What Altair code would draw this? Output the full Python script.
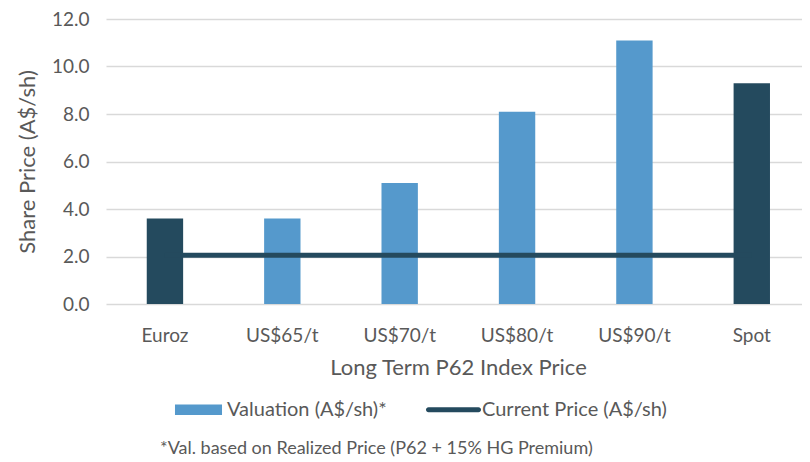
import altair as alt
import pandas as pd

categories = ["Euroz", "US$65/t", "US$70/t", "US$80/t", "US$90/t", "Spot"]
valuation = [3.6, 3.6, 5.1, 8.1, 11.1, 9.3]
current_price = [2.05, 2.05, 2.05, 2.05, 2.05, 2.05]
bar_colors = ["#244A5E", "#5599CC", "#5599CC", "#5599CC", "#5599CC", "#244A5E"]
series_names = ["Valuation (A$/sh)*", "Current Price (A$/sh)"]
series_colors = ["#5599CC", "#244A5E"]
y_ticks = [0, 2, 4, 6, 8, 10, 12]
footnote = "*Val. based on Realized Price (P62 + 15% HG Premium)"

df = pd.DataFrame({"cat": categories, "val": valuation, "cur": current_price, "col": bar_colors})
leg = pd.DataFrame({"series": series_names})

FONT = "Lato"
GREY = "#595959"

rect_path = "M-0.855,-0.195H0.855V0.195H-0.855Z"
line_path = ("M-0.91,-0.09H0.91A0.09,0.09 0 0 1 0.91,0.09"
             "H-0.91A0.09,0.09 0 0 1 -0.91,-0.09Z")

x_enc = alt.X(
    "cat:N", sort=categories,
    scale=alt.Scale(paddingInner=0.69, paddingOuter=0.31, align=0.56),
    axis=alt.Axis(title="Long Term P62 Index Price", labelAngle=0, domain=False, ticks=False,
                  labelPadding=22, labelFontSize=19, titleFontSize=22, titlePadding=12,
                  titleX=352,
                  labelColor=GREY, titleColor=GREY, labelFont=FONT, titleFont=FONT,
                  titleFontWeight="normal", grid=False),
)

y_scale = alt.Scale(domain=[0, 12])
y_axis = alt.Axis(values=y_ticks, format=".1f", title="Share Price (A$/sh)", grid=True,
                  gridColor="#D9D9D9", gridWidth=1.5, domain=False, ticks=False,
                  labelPadding=17, labelFontSize=19, titleFontSize=22, titlePadding=12,
                  labelColor=GREY, titleColor=GREY, labelFont=FONT, titleFont=FONT,
                  titleFontWeight="normal")

bars = alt.Chart(df).mark_bar().encode(
    x=x_enc,
    y=alt.Y("val:Q", scale=y_scale, axis=y_axis),
    color=alt.Color("col:N", scale=None),
)

line = alt.Chart(df).mark_line(color="#244A5E", strokeWidth=5).encode(
    x=alt.X("cat:N", sort=categories),
    y=alt.Y("cur:Q"),
)

legend_props = dict(
    title=None, orient="none", legendX=65, legendY=363, direction="horizontal",
    labelFontSize=20, labelColor=GREY, labelFont=FONT, labelOffset=1, labelLimit=400,
    columnPadding=38, symbolOpacity=1, symbolSize=3025, symbolStrokeWidth=0,
)

legend_layer = alt.Chart(leg).transform_filter("false").mark_point(filled=True, opacity=0).encode(
    color=alt.Color("series:N", scale=alt.Scale(domain=series_names, range=series_colors),
                    legend=alt.Legend(**legend_props)),
    shape=alt.Shape("series:N", scale=alt.Scale(domain=series_names, range=[rect_path, line_path]),
                    legend=alt.Legend(**legend_props)),
)

chart = alt.layer(bars, line, legend_layer).properties(
    width=696, height=285,
    autosize=alt.AutoSizeParams(type="none"),
    padding={"left": 98, "top": 11, "right": 0, "bottom": 158},
    title=alt.TitleParams(footnote, orient="bottom", anchor="start", frame="group", fontSize=18,
                          color=GREY, font=FONT, fontWeight="normal", offset=20, dx=54),
).configure_view(stroke=None)

chart.save("out.html", embed_options={"renderer": "svg", "actions": False})
